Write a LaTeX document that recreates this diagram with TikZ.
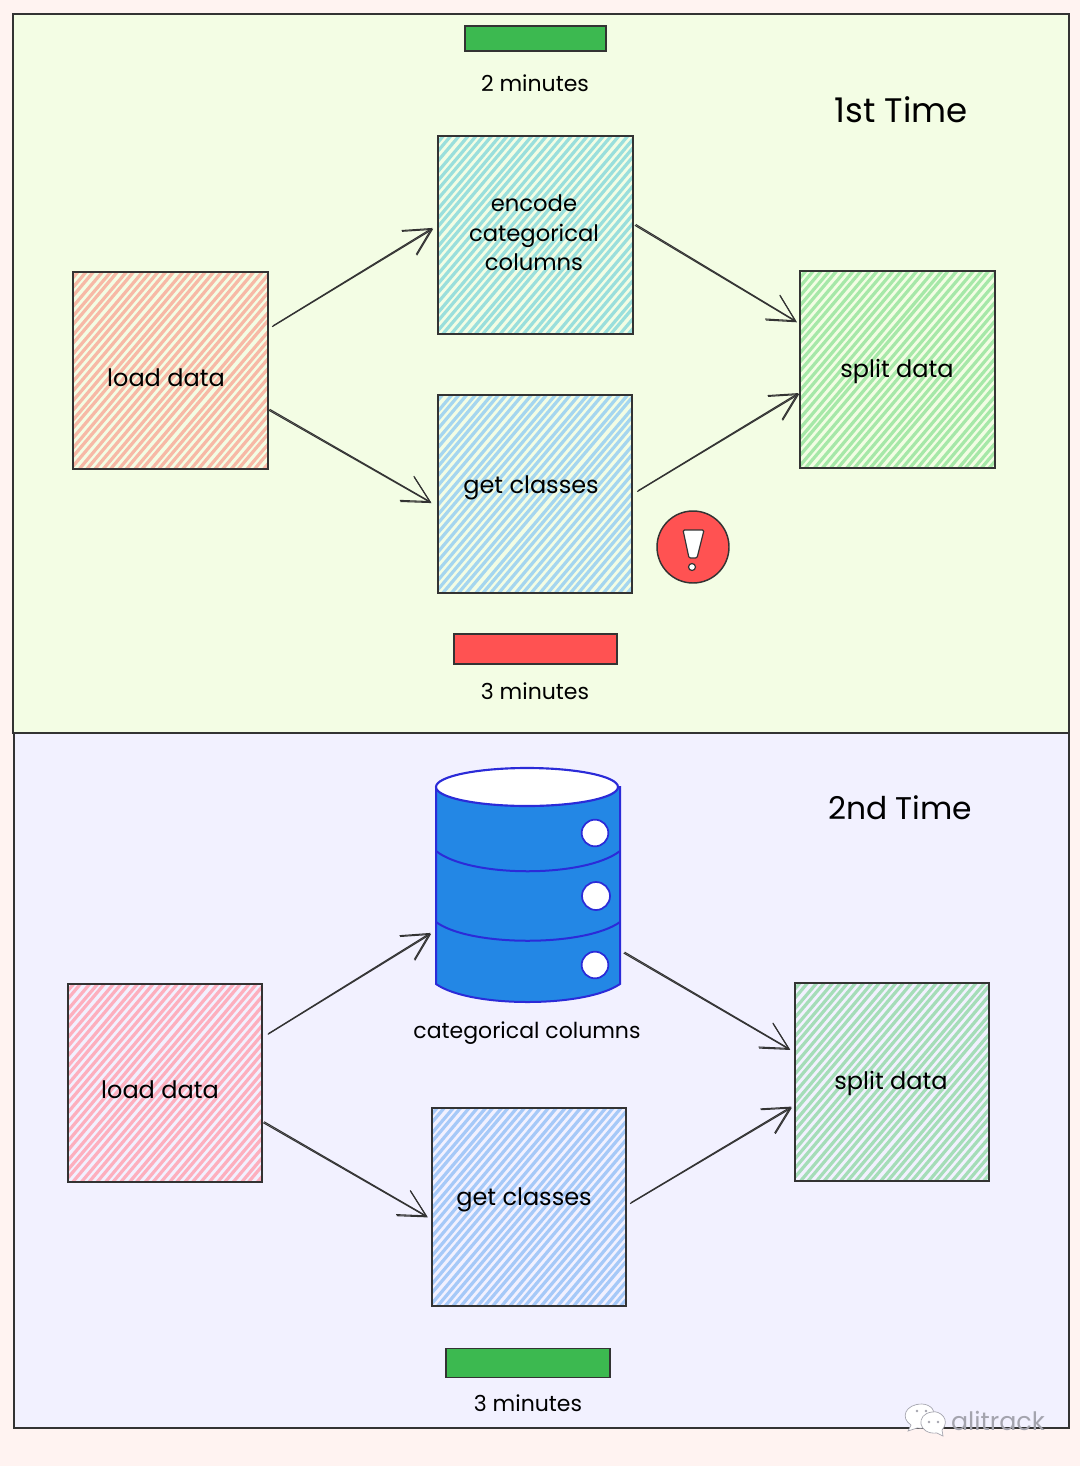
\documentclass[tikz,border=0pt]{standalone}
\usepackage{fontspec}
\setmainfont{Poppins}
\usetikzlibrary{arrows.meta,shapes.geometric}
\definecolor{ink}{HTML}{333333}
\definecolor{page}{HTML}{FFF3F1}
\definecolor{topbg}{HTML}{F3FDE4}
\definecolor{lowbg}{HTML}{F2F1FF}
\definecolor{hpeach}{HTML}{F7B9A6}
\definecolor{hteal}{HTML}{9ADFDC}
\definecolor{hsky}{HTML}{A5D6EF}
\definecolor{hgreen}{HTML}{A6E8A8}
\definecolor{hpink}{HTML}{FDAFBE}
\definecolor{hmint}{HTML}{A5DDB8}
\definecolor{hblue}{HTML}{A6C9F8}
\definecolor{barg}{HTML}{3CB950}
\definecolor{barr}{HTML}{FF5252}
\definecolor{dbfill}{HTML}{2387E5}
\definecolor{dbline}{HTML}{2B2BD8}
\definecolor{wm}{HTML}{A4A4AE}
\tikzset{
  x=0.75pt,y=-0.75pt,
  panel/.style={draw=ink,line width=1.2pt,minimum width=#1,anchor=north west,inner sep=0pt},
  hatchbox/.style={draw=ink,line width=1.4pt,inner sep=0pt,minimum width=146pt,minimum height=148pt,
    path picture={
      \begin{scope}[shift={(path picture bounding box.center)}]
      \foreach \i in {-232,-224,...,232}{
        \pgfmathsetmacro\ja{0.9*rand}
        \pgfmathsetmacro\jb{0.9*rand}
        \draw[#1,line width=2.4pt] (\i+\ja-100,118) -- (\i+\jb+100,-118);
      }
      \end{scope}
    }},
  barbox/.style={draw=ink,line width=1.1pt,fill=#1,inner sep=0pt},
  txt/.style={font=\fontsize{18}{22}\selectfont,text=black,inner sep=0pt},
  small/.style={font=\fontsize{16.5}{20}\selectfont,text=black,inner sep=0pt},
  heading/.style={font=\fontsize{#1}{30}\selectfont,text=black,inner sep=0pt},
  link/.style={draw=ink,line width=0.8pt,-{Straight Barb[length=20pt,width=21pt,line width=0.8pt]}},
  hole/.style={circle,draw=dbline,fill=white,line width=1.3pt,inner sep=0pt,minimum size=#1},
}
\newcommand{\sklink}[4]{% from, to, shorten start, shorten end
  \draw[link,shorten <=#3,shorten >=#4] (#1) -- (#2);
  \draw[link,shorten <=#3,shorten >=#4] ([xshift=0.7pt,yshift=0.7pt]#1) -- ([xshift=-0.5pt,yshift=0.7pt]#2);
}
\begin{document}
\begin{tikzpicture}
\pgfmathsetseed{42}
\useasboundingbox (0,0) rectangle (1080,1466);
\fill[page] (0,0) rectangle (1080,1466);
% panels
\node[panel=792pt,minimum height=539.5pt,fill=topbg] (p1) at (12,13) {};
\node[panel=791.5pt,minimum height=521.5pt,fill=lowbg] (p2) at (13,732) {};
% top bars
\node[barbox=barg,minimum width=105.5pt,minimum height=19pt] (bar1) at (535.5,38.5) {};
\node[small] (t2min) at (535,83) {2 minutes};
\node[heading=25.5] (h1) at (901,110) {1st Time};
% first run boxes
\node[hatchbox=hpeach] (load1) at (170.5,370.5) {};
\node[hatchbox=hteal] (enc) at (535.5,235) {};
\node[hatchbox=hsky] (get1) at (535,494) {};
\node[hatchbox=hgreen] (split1) at (897.5,369.5) {};
\node[txt] (load1t) at (166,378) {load data};
\node[txt,align=center,font=\fontsize{17}{22}\selectfont] (enct) at (534,233) {encode\\categorical\\columns};
\node[txt] (get1t) at (531,488) {get classes};
\node[txt] (split1t) at (897,371) {split data};
\sklink{load1.23.1}{enc.175.5}{3pt}{3.5pt}
\sklink{load1.-22.3}{get1.187.7}{0pt}{4.5pt}
\sklink{enc.6.4}{split1.155.6}{1pt}{2pt}
\sklink{get1.0}{split1.194.2}{3.5pt}{0pt}
% warning
\node[circle,draw=ink,line width=1.1pt,fill=barr,minimum size=54pt,inner sep=0pt] (warn) at (693,547) {};
\filldraw[draw=ink,fill=white,line width=0.9pt,rounded corners=1pt] (683,530) -- (704,530) -- (697,558) -- (689,558) -- cycle;
\filldraw[draw=ink,fill=white,line width=0.9pt] (692,567) circle (3.5);
\node[barbox=barr,minimum width=122pt,minimum height=22.5pt] (bar2) at (535.5,649) {};
\node[small] (t3min) at (535,691) {3 minutes};
% second run
\node[heading=23.5] (h2) at (900,808) {2nd Time};
\node[hatchbox=hpink] (load2) at (165,1083) {};
\node[hatchbox=hblue] (get2) at (529,1207) {};
\node[hatchbox=hmint] (split2) at (892,1082) {};
\node[txt] (load2t) at (160,1090) {load data};
\node[txt] (get2t) at (524,1200) {get classes};
\node[txt] (split2t) at (891,1083) {split data};
% database
\node[minimum width=138pt,minimum height=174pt,inner sep=0pt] (db) at (528,884) {};
\filldraw[draw=dbline,fill=dbfill,line width=1.5pt] (436,787) -- (436,984) .. controls (470,1008) and (585,1008) .. (620,984) -- (620,787) -- cycle;
\filldraw[draw=dbline,fill=white,line width=1.6pt] (527,787) ellipse (91 and 19);
\draw[dbline,line width=1.5pt] (436,851) .. controls (470,878) and (585,878) .. (620,851);
\draw[dbline,line width=1.5pt] (436,922) .. controls (470,947) and (585,947) .. (620,922);
\node[hole=20pt] (h-a) at (595,833) {};
\node[hole=21pt] (h-b) at (596,896) {};
\node[hole=20pt] (h-c) at (595,965) {};
\node[small] (catt) at (527,1033) {categorical columns};
\sklink{load2.25.2}{db.207.3}{4pt}{4pt}
\sklink{db.-36.1}{split2.163.1}{3pt}{3pt}
\sklink{load2.-22.4}{get2.187.3}{0pt}{2.5pt}
\sklink{get2.1.1}{split2.194}{2.5pt}{1.5pt}
\node[barbox=barg,minimum width=123pt,minimum height=22pt] (bar3) at (528,1363) {};
\node[small] (t3minb) at (528,1403) {3 minutes};
% watermark
\filldraw[draw=wm,fill=white,line width=0.5pt] (911,1425) -- (908,1431) -- (917,1428) .. controls (938,1431) and (941,1405) .. (922,1404) .. controls (905,1404) and (900,1418) .. (911,1425) -- cycle;
\filldraw[draw=wm,fill=white,line width=0.5pt] (937,1433) -- (943,1436) -- (942,1430) .. controls (951,1420) and (940,1410) .. (932,1412) .. controls (915,1414) and (918,1435) .. (937,1433) -- cycle;
\fill[wm] (917,1411) circle (1.3) (926,1411) circle (1.3) (929,1422) circle (1.3) (938,1422) circle (1.3);
\node[font=\fontsize{19}{22}\selectfont,text=wm,inner sep=0pt] (wmark) at (998,1421) {alitrack};
\end{tikzpicture}
\end{document}
